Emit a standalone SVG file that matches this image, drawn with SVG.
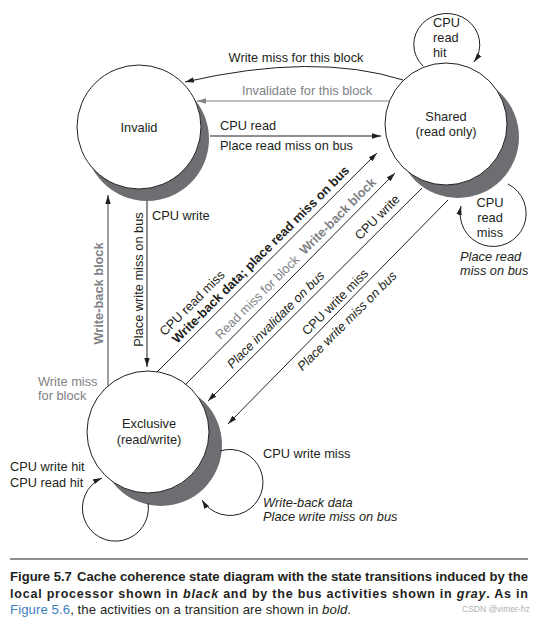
<svg xmlns="http://www.w3.org/2000/svg" width="545" height="621" viewBox="0 0 545 621">
<style>
.t{font-family:"Liberation Sans",Arial,sans-serif;font-size:12.8px;fill:#231f20}
.g{fill:#808285}
.b{font-weight:bold}
.i{font-style:italic}
.m{text-anchor:middle}
.ln{stroke:#231f20;stroke-width:1;fill:none}
.lg{stroke:#808285;stroke-width:1.2;fill:none}
.sh{fill:#6d6e71}
.st{fill:#fff;stroke:#231f20;stroke-width:1}
.cap{font-family:"Liberation Sans",Arial,sans-serif;fill:#231f20}
</style>
<defs>
<marker id="ah" markerUnits="userSpaceOnUse" markerWidth="10" markerHeight="7" refX="9" refY="3" orient="auto">
<path d="M0,0.3 L9,3 L0,5.7 z" fill="#231f20"/>
</marker>
<marker id="ahg" markerUnits="userSpaceOnUse" markerWidth="10" markerHeight="7" refX="9" refY="3" orient="auto">
<path d="M0,0.3 L9,3 L0,5.7 z" fill="#808285"/>
</marker>
</defs>
<rect width="545" height="621" fill="#fff"/>

<g id="node-invalid">
<circle class="sh" cx="147" cy="139" r="62"/>
<circle class="st" cx="139" cy="127" r="62"/>
<text class="t m" x="139" y="131.5">Invalid</text>
</g>
<g id="node-shared">
<circle class="sh" cx="458" cy="137" r="61"/>
<circle class="st" cx="446" cy="124" r="61"/>
<text class="t m" x="446" y="120.5">Shared</text>
<text class="t m" x="446" y="135.5">(read only)</text>
</g>
<g id="node-exclusive">
<circle class="sh" cx="161" cy="445" r="61"/>
<circle class="st" cx="148" cy="432" r="61"/>
<text class="t m" x="149" y="427.5">Exclusive</text>
<text class="t m" x="149" y="443.5">(read/write)</text>
</g>

<g id="connectors">
<path class="ln" d="M403,80 Q315,52 185,82" marker-end="url(#ah)"/>
<line class="lg" x1="389" y1="101" x2="197" y2="101" marker-end="url(#ahg)"/>
<line class="ln" x1="210" y1="136" x2="381" y2="136" marker-end="url(#ah)"/>
<path class="ln" d="M423,66 A33,31 0 1 1 474,62" marker-end="url(#ah)"/>
<path class="ln" d="M508,184 A33,33 0 1 1 461,206" marker-end="url(#ah)"/>
<line x1="108" y1="386" x2="108" y2="195" stroke="#414042" stroke-width="1" marker-end="url(#ah)"/>
<line class="ln" x1="147" y1="201" x2="147" y2="367" marker-end="url(#ah)"/>
<line class="ln" x1="157" y1="372" x2="377" y2="153" marker-end="url(#ah)"/>
<line class="ln" x1="185" y1="385" x2="395" y2="173" marker-end="url(#ah)"/>
<line class="ln" x1="422" y1="188" x2="208" y2="401" marker-end="url(#ah)"/>
<line class="ln" x1="448" y1="200" x2="228" y2="424" marker-end="url(#ah)"/>
<path class="ln" d="M148,503 A33,33 0 1 1 102,478" marker-end="url(#ah)"/>
<path class="ln" d="M220,451 A33,33 0 1 1 202,500" marker-end="url(#ah)"/>
</g>

<g id="labels">
<text class="t m" x="296" y="62">Write miss for this block</text>
<text class="t g m" x="307" y="95">Invalidate for this block</text>
<text class="t" x="220" y="130">CPU read</text>
<text class="t" x="220" y="150">Place read miss on bus</text>
<text class="t" x="433" y="27">CPU</text>
<text class="t" x="433" y="42">read</text>
<text class="t" x="433" y="57">hit</text>
<text class="t m" x="490" y="206.5">CPU</text>
<text class="t m" x="490" y="221.5">read</text>
<text class="t m" x="490" y="236.5">miss</text>
<text class="t i" x="460" y="261">Place read</text>
<text class="t i" x="460" y="275">miss on bus</text>
<text class="t" x="152" y="219.5">CPU write</text>
<text class="t b g m" transform="translate(103,293.5) rotate(-90)">Write-back block</text>
<text class="t m" transform="translate(143,279.5) rotate(-90)">Place write miss on bus</text>
<text class="t g" x="38" y="386">Write miss</text>
<text class="t g" x="38" y="399.5">for block</text>
<text class="t m" transform="translate(195.2,306.2) rotate(-45)">CPU read miss</text>
<text class="t b m" transform="translate(263.7,257.7) rotate(-45)">Write-back data; place read miss on bus</text>
<text class="t g m" transform="translate(260.2,300.2) rotate(-45)">Read miss for block</text>
<text class="t g b m" transform="translate(340.75,219.25) rotate(-45)">Write-back block</text>
<text class="t i m" transform="translate(278.75,322.75) rotate(-45)">Place invalidate on bus</text>
<text class="t m" transform="translate(380.25,220.25) rotate(-45)">CPU write</text>
<text class="t m" transform="translate(338.2,305.2) rotate(-45)">CPU write miss</text>
<text class="t i m" transform="translate(350,324) rotate(-45)">Place write miss on bus</text>
<text class="t" x="10" y="471">CPU write hit</text>
<text class="t" x="10" y="487">CPU read hit</text>
<text class="t" x="263" y="458">CPU write miss</text>
<text class="t i" x="263" y="507">Write-back data</text>
<text class="t i" x="263" y="521">Place write miss on bus</text>
</g>

<g id="caption">
<line x1="10" y1="559" x2="528" y2="559" stroke="#231f20" stroke-width="1.2"/>
<text class="cap" x="10" y="581" font-size="12.5" font-weight="bold" textLength="518" lengthAdjust="spacingAndGlyphs">Figure 5.7<tspan dx="5">Cache coherence state diagram with the state transitions induced by the</tspan></text>
<text class="cap" x="10" y="597.5" font-size="12.5" font-weight="bold" textLength="518" lengthAdjust="spacing">local processor shown in <tspan font-style="italic">black</tspan> and by the bus activities shown in <tspan font-style="italic">gray</tspan>. As in</text>
<text class="cap" x="10" y="614" font-size="13.2" textLength="341" lengthAdjust="spacing"><tspan fill="#3f7fc0">Figure 5.6</tspan>, the activities on a transition are shown in <tspan font-style="italic">bold</tspan>.</text>
<text x="462" y="612" font-family="'Liberation Sans',Arial,sans-serif" font-size="8.5" fill="#b0b0b0">CSDN @vimer-hz</text>
</g>
</svg>
